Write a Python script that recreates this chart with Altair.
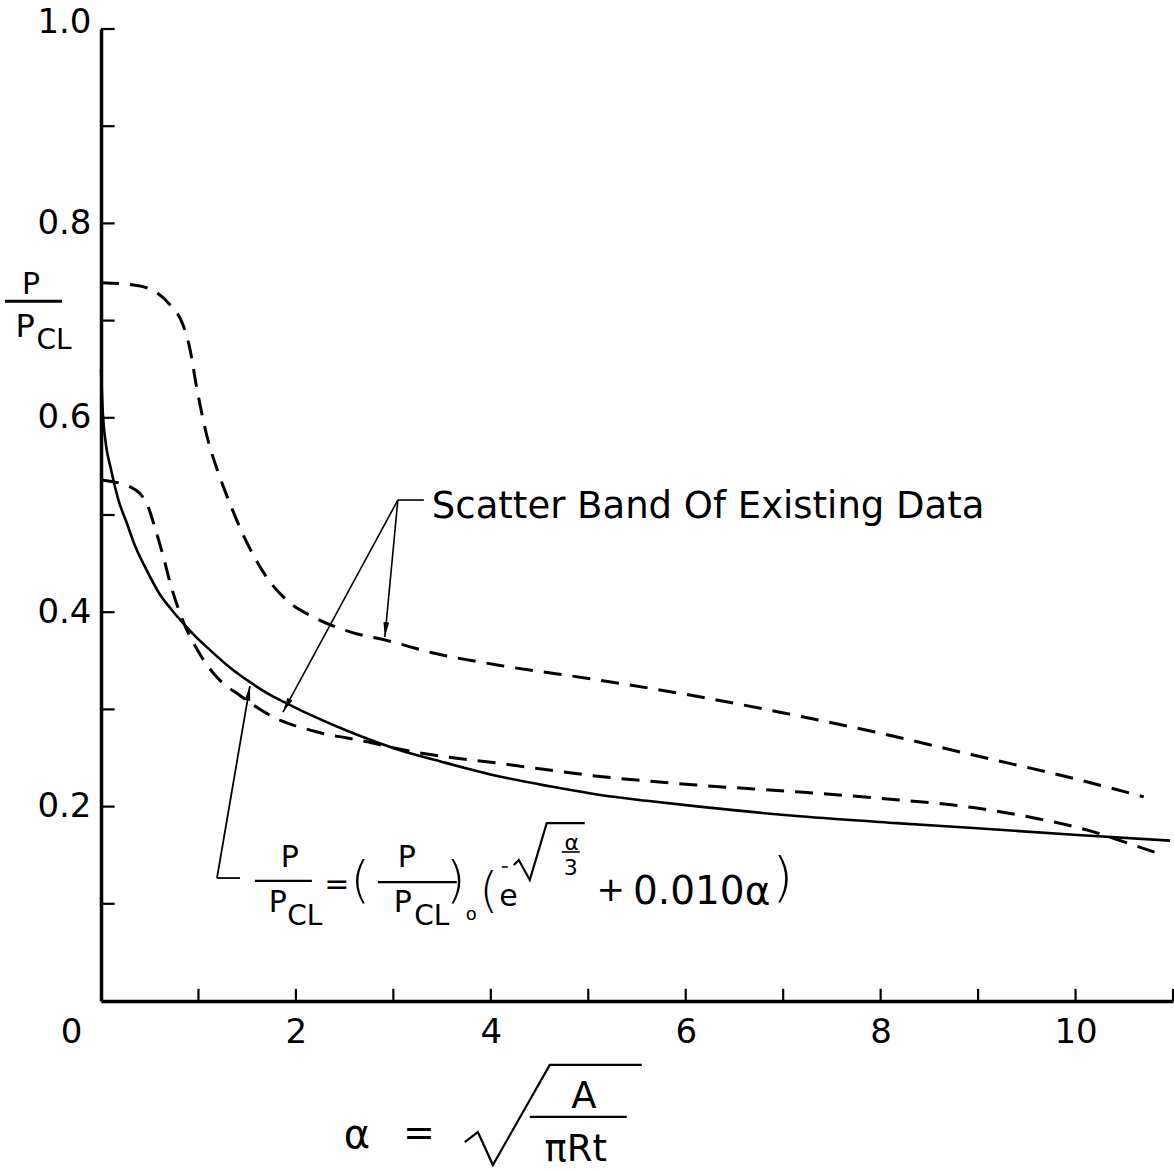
import math
import altair as alt
import pandas as pd

# ---------------- data ----------------
solid_x = [0.0, 0.02, 0.05, 0.10, 0.18, 0.26, 0.35, 0.47, 0.60, 0.72, 0.84, 1.00, 1.12,
           1.30, 1.53, 1.70, 1.91, 2.20, 2.55, 3.07, 3.50, 4.09, 4.60, 5.12, 5.60, 6.14,
           7.17, 8.16, 8.95, 9.98, 10.97]
solid_y = [0.650, 0.603, 0.573, 0.548, 0.515, 0.493, 0.468, 0.443, 0.419, 0.403, 0.389,
           0.372, 0.361, 0.345, 0.328, 0.317, 0.306, 0.292, 0.277, 0.258, 0.246, 0.231,
           0.221, 0.212, 0.206, 0.200, 0.190, 0.183, 0.178, 0.171, 0.165]

upper_x = [0.0, 0.20, 0.43, 0.57, 0.71, 0.84, 0.91, 0.98, 1.09, 1.22, 1.35, 1.50, 1.70,
           1.91, 2.18, 2.58, 2.93, 3.41, 4.05, 5.12, 6.14, 7.17, 7.93, 8.95, 9.98, 10.70]
upper_y = [0.739, 0.738, 0.735, 0.729, 0.716, 0.696, 0.672, 0.632, 0.580, 0.539, 0.505,
           0.471, 0.436, 0.412, 0.395, 0.379, 0.371, 0.358, 0.346, 0.330, 0.313, 0.293,
           0.277, 0.253, 0.229, 0.210]

lower_x = [0.0, 0.30, 0.40, 0.47, 0.55, 0.64, 0.71, 0.81, 1.02, 1.19, 1.43, 1.77, 2.21,
           2.72, 3.07, 3.41, 4.05, 5.12, 6.14, 7.17, 7.93, 8.95, 9.64, 10.15, 10.49, 10.90]
lower_y = [0.536, 0.529, 0.522, 0.512, 0.488, 0.457, 0.430, 0.399, 0.356, 0.333, 0.314,
           0.292, 0.277, 0.267, 0.259, 0.253, 0.245, 0.231, 0.222, 0.215, 0.209, 0.199,
           0.187, 0.175, 0.164, 0.150]

x_tick_values = [1, 2, 3, 4, 5, 6, 7, 8, 9, 10, 11]
y_tick_values = [0.1, 0.2, 0.3, 0.4, 0.5, 0.6, 0.7, 0.8, 0.9, 1.0]
x_label_values = [0, 2, 4, 6, 8, 10]
y_label_values = [0.2, 0.4, 0.6, 0.8, 1.0]

band_label = "Scatter Band  Of Existing Data"

# ---------------- layout ----------------
W, H = 1072, 972
FONT = "DejaVu Sans"
xs = alt.Scale(domain=[0, 11], nice=False, zero=False)
ys = alt.Scale(domain=[0, 1], nice=False, zero=False)

xaxis = alt.Axis(values=x_label_values, ticks=False, grid=False, domainWidth=3.5,
                 domainColor="black", labelFont=FONT, labelFontSize=34, labelColor="black",
                 labelPadding=14, labelOverlap=False, labelFlush=False, title=None,
                 labelOffset={"condition": {"test": "datum.value == 0", "value": -30}, "value": 0})
yaxis = alt.Axis(values=y_label_values, format=".1f", ticks=False, grid=False, domainWidth=3.5,
                 domainColor="black", labelFont=FONT, labelFontSize=34, labelColor="black",
                 labelPadding=10, labelOverlap=False, labelFlush=False, title=None,
                 labelOffset={"condition": {"test": "datum.value == 1", "value": -7}, "value": 0})


def X(f="x"):
    return alt.X(f"{f}:Q", scale=xs, axis=xaxis)


def Y(f="y"):
    return alt.Y(f"{f}:Q", scale=ys, axis=yaxis)


def curve(xv, yv, dash=None, width=3.0):
    df = pd.DataFrame({"x": xv, "y": yv, "o": list(range(len(xv)))})
    kw = dict(color="black", strokeWidth=width, interpolate="monotone", clip=False)
    if dash:
        kw["strokeDash"] = dash
    return alt.Chart(df).mark_line(**kw).encode(x=X(), y=Y(), order="o:Q")


solid = curve(solid_x, solid_y, width=2.6)
upper = curve(upper_x, upper_y, dash=[18, 11], width=3.0)
lower = curve(lower_x, lower_y, dash=[18, 11], width=3.0)

# inward ticks
tick_df = pd.concat([
    pd.DataFrame({"x": [0.0] * len(y_tick_values), "x2": [0.14] * len(y_tick_values),
                  "y": y_tick_values, "y2": y_tick_values}),
    pd.DataFrame({"x": x_tick_values, "x2": x_tick_values,
                  "y": [0.0] * len(x_tick_values), "y2": [0.0125] * len(x_tick_values)}),
])
ticks = alt.Chart(tick_df).mark_rule(color="black", strokeWidth=2.2).encode(
    x=X(), x2="x2:Q", y=Y(), y2="y2:Q")

# annotation segments (data units)
seg_x = [3.046, 3.046, 3.046, 1.190, 1.190, 1.579, 2.841, 4.113, 4.728, -0.985, 4.400]
seg_y = [0.5154, 0.5154, 0.5154, 0.1265, 0.1265, 0.1235, 0.1224, 0.1379, 0.1533, 0.720, -0.1193]
seg_x2 = [3.313, 2.913, 1.867, 1.426, 1.528, 2.164, 3.651, 4.174, 4.913, -0.400, 5.395]
seg_y2 = [0.5154, 0.3745, 0.2973, 0.1265, 0.324, 0.1235, 0.1224, 0.1379, 0.1533, 0.720, -0.1193]
seg_w = [1.6, 1.6, 1.6, 1.8, 1.8, 2.2, 2.2, 1.6, 1.6, 3.0, 2.2]
seg_df = pd.DataFrame({"x": seg_x, "y": seg_y, "x2": seg_x2, "y2": seg_y2, "w": seg_w})
segs = alt.Chart(seg_df).mark_rule(color="black").encode(
    x=X(), y=Y(), x2="x2:Q", y2="y2:Q", strokeWidth=alt.StrokeWidth("w:Q", scale=None))

# radical signs (polylines)
rad_g = ["f"] * 5 + ["t"] * 5
rad_x = [4.236, 4.287, 4.400, 4.574, 4.964, 3.733, 3.867, 4.021, 4.605, 5.549]
rad_y = [0.1399, 0.1451, 0.1245, 0.1831, 0.1831, -0.1451, -0.1348, -0.1687, -0.0658, -0.0658]
rad_df = pd.DataFrame({"x": rad_x, "y": rad_y, "g": rad_g, "o": list(range(len(rad_x)))})
rads = alt.Chart(rad_df).mark_line(color="black", strokeWidth=2.2, clip=False).encode(
    x=X(), y=Y(), detail="g:N", order="o:Q")

# arrowheads at arrow tips
arrows = [(3.046, 0.5154, 2.913, 0.3745), (3.046, 0.5154, 1.867, 0.2973),
          (1.190, 0.1265, 1.528, 0.324)]
px_x, px_y = W / 11.0, H / 1.0
ah_x, ah_y, ah_a = [], [], []
for x0, y0, x1, y1 in arrows:
    dx = (x1 - x0) * px_x
    dy = -(y1 - y0) * px_y
    ah_x.append(x1)
    ah_y.append(y1)
    ah_a.append(math.degrees(math.atan2(dx, -dy)) % 360)
ah_df = pd.DataFrame({"x": ah_x, "y": ah_y, "a": ah_a})
heads = alt.Chart(ah_df).mark_point(
    shape="M0,0L-0.33,1.7L0.33,1.7Z", filled=True, color="black", opacity=1, size=300,
    strokeWidth=0).encode(x=X(), y=Y(), angle=alt.Angle("a:Q", scale=None))

# formula and axis-title texts (centered)
txt_t = ["P", "P", "CL",
         "P", "P", "CL", "=", "P", "P", "CL", "o", "e", "α", "3", "+", "0.010α",
         "α", "=", "A", "πRt"]
txt_x = [-0.718, -0.779, -0.482,
         1.938, 1.815, 2.092, 2.420, 3.138, 3.097, 3.395, 3.800, 4.180,
         4.831, 4.821, 5.231, 6.164,
         2.626, 3.262, 4.954, 4.872]
txt_y = [0.737, 0.693, 0.679,
         0.147, 0.1008, 0.0864, 0.119, 0.147, 0.1008, 0.0864, 0.0885, 0.107,
         0.1626, 0.1368, 0.1132, 0.1121,
         -0.1389, -0.1368, -0.0988, -0.1533]
txt_s = [30, 32, 28,
         30, 30, 28, 30, 30, 30, 28, 18, 30, 22, 22, 34, 39,
         40, 38, 37, 37]
txt_df = pd.DataFrame({"x": txt_x, "y": txt_y, "t": txt_t, "s": txt_s})
texts = alt.Chart(txt_df).mark_text(font=FONT, align="center", baseline="middle",
                                    color="black").encode(
    x=X(), y=Y(), text="t:N", size=alt.Size("s:Q", scale=None))

# thin parentheses of the formula
par_t = ["(", ")", "(", ")"]
par_x = [2.66, 3.64, 3.98, 6.995]
par_y = [0.1224, 0.1224, 0.111, 0.1245]
par_s = [50, 50, 48, 54]
par_df = pd.DataFrame({"x": par_x, "y": par_y, "t": par_t, "s": par_s})
parens = alt.Chart(par_df).mark_text(font=FONT, align="center", baseline="middle",
                                     color="black", fontWeight=200).encode(
    x=X(), y=Y(), text="t:N", size=alt.Size("s:Q", scale=None))

band_df = pd.DataFrame({"x": [3.395], "y": [0.5082], "t": [band_label]})
band = alt.Chart(band_df).mark_text(font=FONT, align="left", baseline="middle", color="black",
                                    fontSize=37).encode(x=X(), y=Y(), text="t:N")

chart = alt.layer(upper, lower, solid, ticks, segs, rads, heads, texts, parens, band).properties(
    width=W, height=H,
    padding={"left": 101, "top": 29, "right": 1, "bottom": 170},
    autosize=alt.AutoSizeParams(type="none"),
    background="white",
).configure_view(stroke=None)

chart.save("out.html", embed_options={"renderer": "svg", "actions": False})
